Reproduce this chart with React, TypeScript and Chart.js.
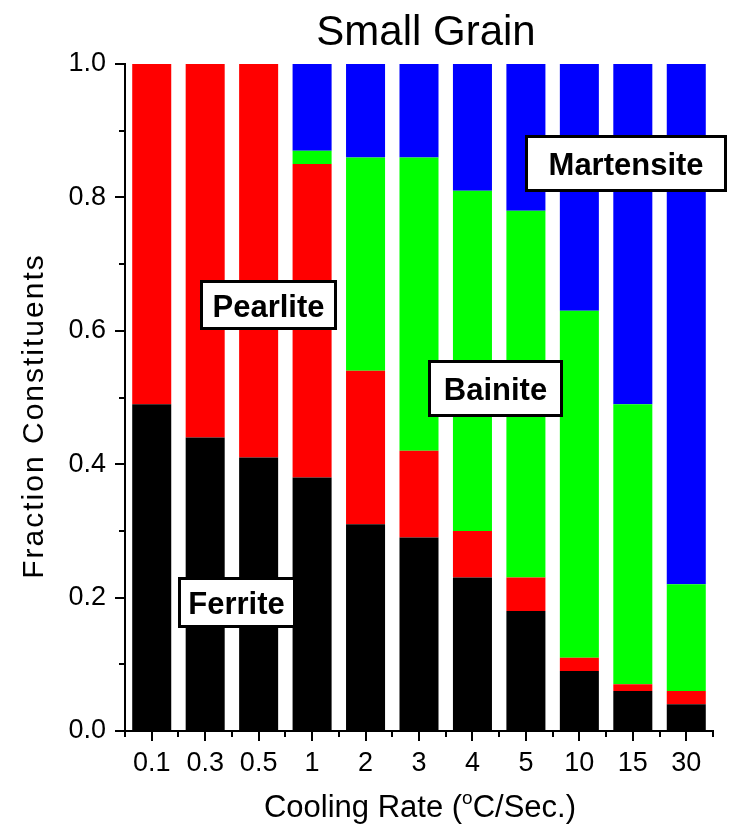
import React, { useEffect, useRef } from 'react';
import { Chart, registerables } from 'chart.js';

Chart.register(...registerables);

// Cooling rates (°C/s) and the phase fractions found at each rate
const categories = ['0.1', '0.3', '0.5', '1', '2', '3', '4', '5', '10', '15', '30'];
const ferrite = [0.49, 0.44, 0.41, 0.38, 0.31, 0.29, 0.23, 0.18, 0.09, 0.06, 0.04];
const pearlite = [0.51, 0.56, 0.59, 0.47, 0.23, 0.13, 0.07, 0.05, 0.02, 0.01, 0.02];
const bainite = [0, 0, 0, 0.02, 0.32, 0.44, 0.51, 0.55, 0.52, 0.42, 0.16];
const martensite = [0, 0, 0, 0.13, 0.14, 0.14, 0.19, 0.22, 0.37, 0.51, 0.78];

const yMajorTicks = [0, 0.2, 0.4, 0.6, 0.8, 1.0];
const yMinorTicks = [0.1, 0.3, 0.5, 0.7, 0.9];

const FONT = '"Liberation Sans", Arial, Helvetica, sans-serif';

// Boxed phase names, anchored in data space (category index, fraction)
const phaseLabels = [
  { text: 'Pearlite', x: 2.185, y: 0.639, w: 137, h: 50 },
  { text: 'Bainite', x: 6.43, y: 0.5135, w: 135, h: 57 },
  { text: 'Martensite', x: 8.874, y: 0.851, w: 202, h: 57 },
  { text: 'Ferrite', x: 1.587, y: 0.193, w: 118, h: 51 },
];

const decorations = {
  id: 'decorations',
  afterDraw(chart: any) {
    const { ctx, chartArea, scales } = chart;
    const xs = scales.x;
    const ys = scales.y;
    ctx.save();

    // minor ticks
    ctx.strokeStyle = '#000';
    ctx.lineWidth = 2;
    for (const v of yMinorTicks) {
      const py = Math.round(ys.getPixelForValue(v));
      ctx.beginPath();
      ctx.moveTo(chartArea.left - 6, py);
      ctx.lineTo(chartArea.left, py);
      ctx.stroke();
    }
    for (let i = 0; i <= categories.length; i++) {
      const px = Math.round(xs.getPixelForValue(i - 0.5));
      ctx.beginPath();
      ctx.moveTo(px, chartArea.bottom);
      ctx.lineTo(px, chartArea.bottom + 6);
      ctx.stroke();
    }

    // phase name boxes
    ctx.font = `bold 31px ${FONT}`;
    ctx.textAlign = 'center';
    ctx.textBaseline = 'alphabetic';
    for (const lab of phaseLabels) {
      const cx = xs.getPixelForValue(lab.x);
      const cy = ys.getPixelForValue(lab.y);
      const left = Math.round(cx - lab.w / 2);
      const top = Math.round(cy - lab.h / 2);
      ctx.fillStyle = '#fff';
      ctx.fillRect(left, top, lab.w, lab.h);
      ctx.lineWidth = 3;
      ctx.strokeStyle = '#000';
      ctx.strokeRect(left + 1.5, top + 1.5, lab.w - 3, lab.h - 3);
      ctx.fillStyle = '#000';
      ctx.fillText(lab.text, cx, cy + 12);
    }

    // chart title
    ctx.fillStyle = '#000';
    ctx.font = `42px ${FONT}`;
    ctx.textAlign = 'center';
    ctx.fillText('Small Grain', 426, 45);

    // x axis title with superscript degree mark
    const partA = 'Cooling Rate (';
    const sup = 'o';
    const partB = 'C/Sec.)';
    ctx.textAlign = 'left';
    ctx.font = `31px ${FONT}`;
    const wA = ctx.measureText(partA).width;
    const wB = ctx.measureText(partB).width;
    ctx.font = `19px ${FONT}`;
    const wS = ctx.measureText(sup).width;
    const startX = 420 - (wA + wS + wB) / 2;
    const base = 817;
    ctx.font = `31px ${FONT}`;
    ctx.fillText(partA, startX, base);
    ctx.font = `19px ${FONT}`;
    ctx.fillText(sup, startX + wA, base - 13);
    ctx.font = `31px ${FONT}`;
    ctx.fillText(partB, startX + wA + wS, base);

    // y axis title
    ctx.save();
    ctx.translate(43, 416);
    ctx.rotate(-Math.PI / 2);
    ctx.font = `30px ${FONT}`;
    (ctx as any).letterSpacing = '2px';
    ctx.textAlign = 'center';
    ctx.fillText('Fraction Constituents', 0, 0);
    ctx.restore();

    ctx.restore();
  },
};

export default function App() {
  const canvasRef = useRef<HTMLCanvasElement | null>(null);

  useEffect(() => {
    const canvas = canvasRef.current;
    if (!canvas) return;
    const chart = new Chart(canvas, {
      type: 'bar',
      data: {
        labels: categories,
        datasets: [
          { label: 'Ferrite', data: ferrite, backgroundColor: '#000000' },
          { label: 'Pearlite', data: pearlite, backgroundColor: '#ff0000' },
          { label: 'Bainite', data: bainite, backgroundColor: '#00ff00' },
          { label: 'Martensite', data: martensite, backgroundColor: '#0000ff' },
        ],
      },
      options: {
        animation: false,
        responsive: false,
        maintainAspectRatio: false,
        datasets: {
          bar: { barPercentage: 0.73, categoryPercentage: 1.0, borderWidth: 0 },
        },
        layout: { padding: { top: 64, right: 18, left: 0, bottom: 0 } },
        plugins: {
          legend: { display: false },
          title: { display: false },
          tooltip: { enabled: false },
        },
        scales: {
          x: {
            stacked: true,
            offset: true,
            grid: {
              display: true,
              offset: false,
              drawOnChartArea: false,
              drawTicks: true,
              tickLength: 10,
              tickWidth: 2,
              tickColor: '#000',
              color: '#000',
              lineWidth: 2,
            },
            border: { display: true, color: '#000', width: 2 },
            ticks: {
              color: '#000',
              font: { family: FONT, size: 27 },
              padding: 6,
              maxRotation: 0,
              autoSkip: false,
            },
            afterFit: (s: any) => {
              s.height = 99;
            },
          },
          y: {
            stacked: true,
            min: 0,
            max: 1,
            afterBuildTicks: (s: any) => {
              s.ticks = yMajorTicks.map((v) => ({ value: v }));
            },
            grid: {
              display: true,
              drawOnChartArea: false,
              drawTicks: true,
              tickLength: 10,
              tickWidth: 2,
              tickColor: '#000',
              color: '#000',
              lineWidth: 2,
            },
            border: { display: true, color: '#000', width: 2 },
            ticks: {
              color: '#000',
              font: { family: FONT, size: 27 },
              padding: 9,
              callback: (v: any) => Number(v).toFixed(1),
            },
            afterFit: (s: any) => {
              s.width = 125;
            },
          },
        },
      },
      plugins: [decorations],
    });
    return () => chart.destroy();
  }, []);

  return (
    <div style={{ position: 'absolute', left: 0, top: 0, width: 731, height: 830, background: '#fff' }}>
      <canvas ref={canvasRef} width={731} height={830} style={{ display: 'block' }} />
    </div>
  );
}
